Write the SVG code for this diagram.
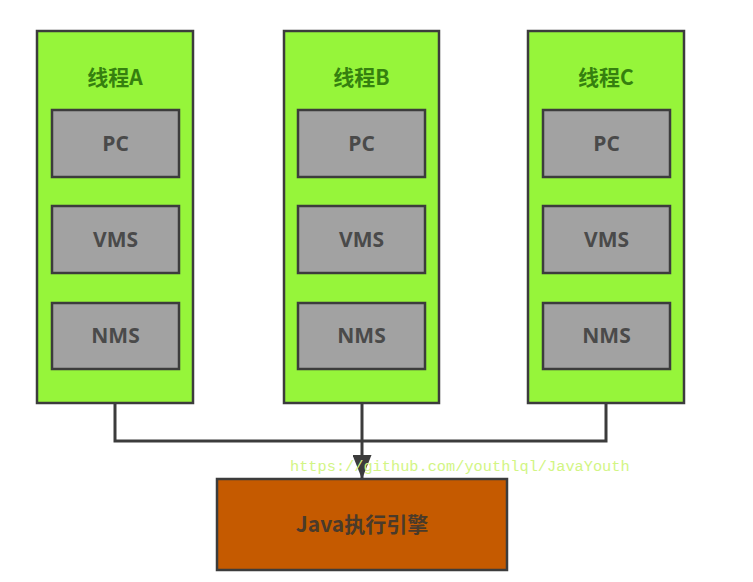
<svg xmlns="http://www.w3.org/2000/svg" width="753" height="582" viewBox="0 0 753 582">
<style>
.thread{fill:#96f53a;stroke:#3c3c3c;stroke-width:2.5}
.inner{fill:#a2a2a2;stroke:#3c3c3c;stroke-width:2.5}
.title{font-family:"Noto Sans CJK SC","Noto Sans",sans-serif;font-weight:bold;font-size:21px;fill:#35800f;text-anchor:middle}
.lbl{font-family:"Open Sans","Noto Sans",sans-serif;font-weight:bold;font-size:21px;fill:#4a4a4a;text-anchor:middle}
.conn{fill:none;stroke:#3c3c3c;stroke-width:3}
</style>
<defs>
<marker id="arr" viewBox="0 0 24 19" markerWidth="24" markerHeight="19" refX="23" refY="9.5" orient="auto" markerUnits="userSpaceOnUse">
<path d="M0,0 L24,9.5 L0,19 Z" fill="#3c3c3c"/>
</marker>
</defs>
<rect width="753" height="582" fill="#ffffff"/>
<g id="connectors">
<polyline class="conn" points="115,403 115,441 606,441 606,403"/>
<line class="conn" x1="362" y1="403" x2="362" y2="478" marker-end="url(#arr)"/>
</g>
<g id="threadA">
<rect class="thread" x="37" y="31" width="156" height="372"/>
<text class="title" x="115" y="85">线程A</text>
<rect class="inner" x="52" y="110" width="127" height="67"/>
<text class="lbl" x="115.5" y="151">PC</text>
<rect class="inner" x="52" y="206" width="127" height="67"/>
<text class="lbl" x="115.5" y="247">VMS</text>
<rect class="inner" x="52" y="303" width="127" height="66"/>
<text class="lbl" x="115.5" y="343">NMS</text>
</g>
<g id="threadB">
<rect class="thread" x="284" y="31" width="155" height="372"/>
<text class="title" x="361.5" y="85">线程B</text>
<rect class="inner" x="298" y="110" width="127" height="67"/>
<text class="lbl" x="361.5" y="151">PC</text>
<rect class="inner" x="298" y="206" width="127" height="67"/>
<text class="lbl" x="361.5" y="247">VMS</text>
<rect class="inner" x="298" y="303" width="127" height="66"/>
<text class="lbl" x="361.5" y="343">NMS</text>
</g>
<g id="threadC">
<rect class="thread" x="528" y="31" width="156" height="372"/>
<text class="title" x="606" y="85">线程C</text>
<rect class="inner" x="543" y="110" width="127" height="67"/>
<text class="lbl" x="606.5" y="151">PC</text>
<rect class="inner" x="543" y="206" width="127" height="67"/>
<text class="lbl" x="606.5" y="247">VMS</text>
<rect class="inner" x="543" y="303" width="127" height="66"/>
<text class="lbl" x="606.5" y="343">NMS</text>
</g>
<g id="engine">
<rect x="217" y="479" width="290" height="91" fill="#c55a00" stroke="#3c3c3c" stroke-width="2.5"/>
<text x="362" y="532" font-family="'Noto Sans CJK SC','Noto Sans',sans-serif" font-weight="bold" font-size="21" fill="#4a3a2a" text-anchor="middle">Java执行引擎</text>
</g>
<text x="290" y="471" font-family="'Liberation Mono',monospace" font-size="15.3" fill="#d2f584">https://github.com/youthlql/JavaYouth</text>
</svg>
